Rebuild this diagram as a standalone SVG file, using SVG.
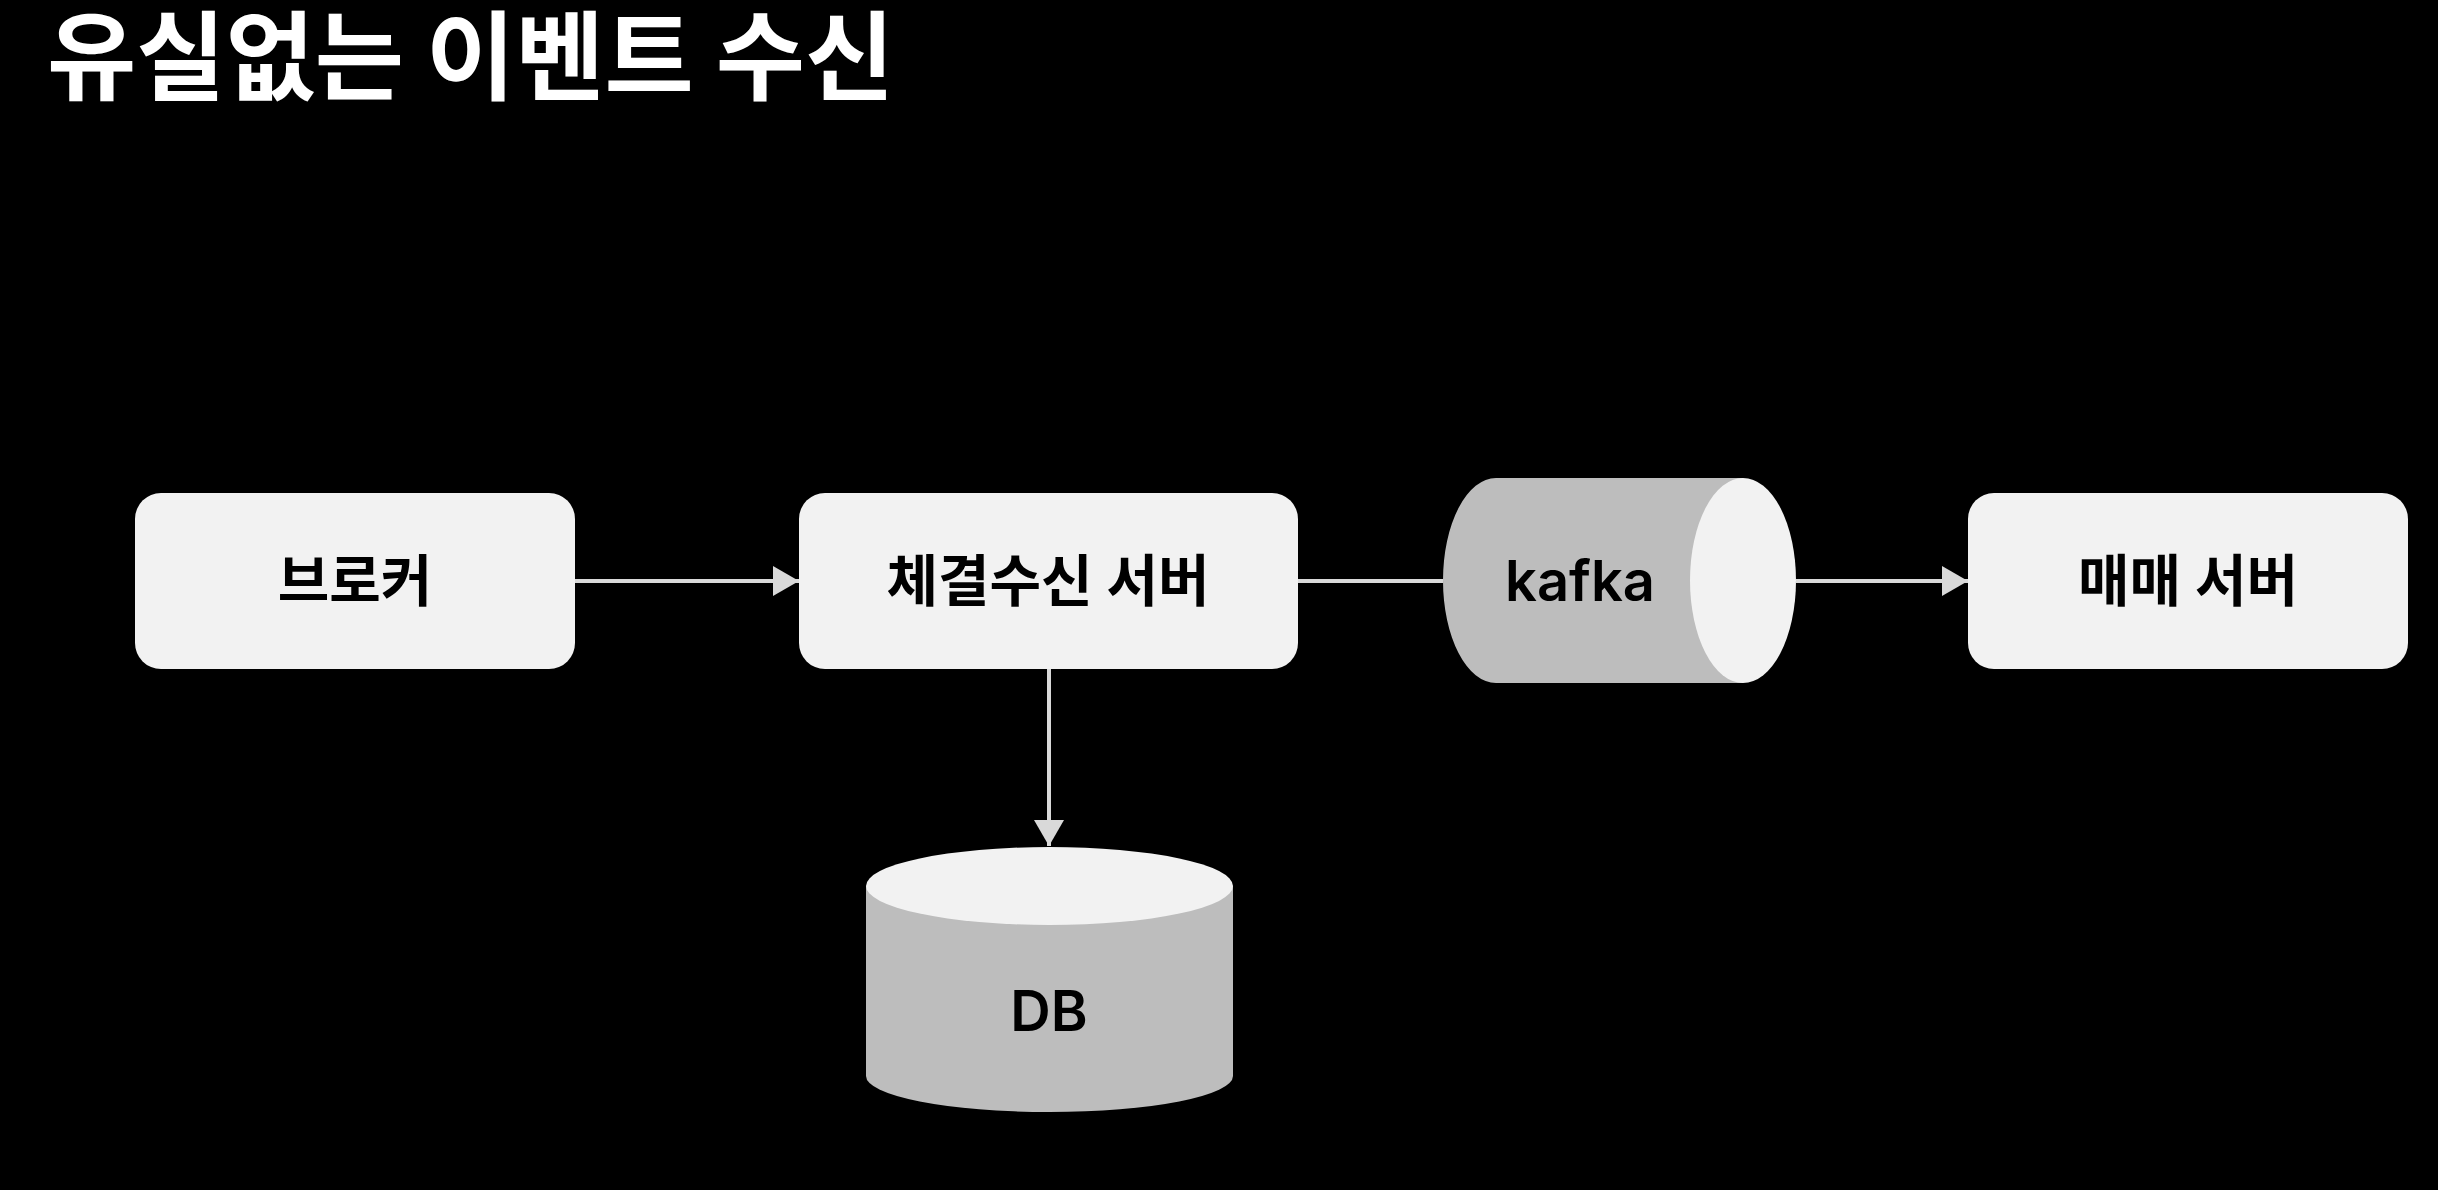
<svg xmlns="http://www.w3.org/2000/svg" width="2438" height="1190" viewBox="0 0 2438 1190">
<defs>
<style>
.bg{fill:#000}
.box{fill:#f2f2f2}
.body{fill:#bdbdbd}
.cap{fill:#f2f2f2}
.lbl{font-family:Inter,"Noto Sans CJK KR",sans-serif;font-size:56px;font-weight:600;fill:#000;text-anchor:middle;dominant-baseline:central}
.title{font-family:"Noto Sans CJK KR",sans-serif;font-size:97px;font-weight:700;fill:#fff}
.edge{stroke:#d9d9d9;stroke-width:4;fill:none}
</style>
<marker id="arr" viewBox="0 0 26 30" refX="26" refY="15" markerWidth="26" markerHeight="30" markerUnits="userSpaceOnUse" orient="auto">
<path d="M0,0 L26,15 L0,30 Z" fill="#d9d9d9"/>
</marker>
</defs>
<rect class="bg" x="0" y="0" width="2438" height="1190"/>
<text class="title" x="47" y="92">유실없는 이벤트 수신</text>
<g id="connectors">
<line class="edge" x1="575" y1="581" x2="799" y2="581" marker-end="url(#arr)"/>
<line class="edge" x1="1298" y1="581" x2="1443" y2="581"/>
<line class="edge" x1="1796" y1="581" x2="1968" y2="581" marker-end="url(#arr)"/>
<line class="edge" x1="1049" y1="669" x2="1049" y2="846" marker-end="url(#arr)"/>
</g>
<g id="broker">
<rect class="box" x="135" y="493" width="440" height="176" rx="26"/>
<text class="lbl" x="355" y="581">브로커</text>
</g>
<g id="receiver">
<rect class="box" x="799" y="493" width="499" height="176" rx="26"/>
<text class="lbl" x="1048" y="581">체결수신 서버</text>
</g>
<g id="kafka">
<path class="body" d="M1743,478 L1496,478 A53,102.5 0 0 0 1496,683 L1743,683 Z"/>
<ellipse class="cap" cx="1743" cy="580.5" rx="53" ry="102.5"/>
<text class="lbl" x="1580" y="581">kafka</text>
</g>
<g id="trade">
<rect class="box" x="1968" y="493" width="440" height="176" rx="26"/>
<text class="lbl" x="2188" y="581">매매 서버</text>
</g>
<g id="db">
<path class="body" d="M866,886 L866,1076 A183.5,36 0 0 0 1233,1076 L1233,886 Z"/>
<ellipse class="cap" cx="1049.5" cy="886" rx="183.5" ry="39"/>
<text class="lbl" x="1049" y="1011">DB</text>
</g>
</svg>
